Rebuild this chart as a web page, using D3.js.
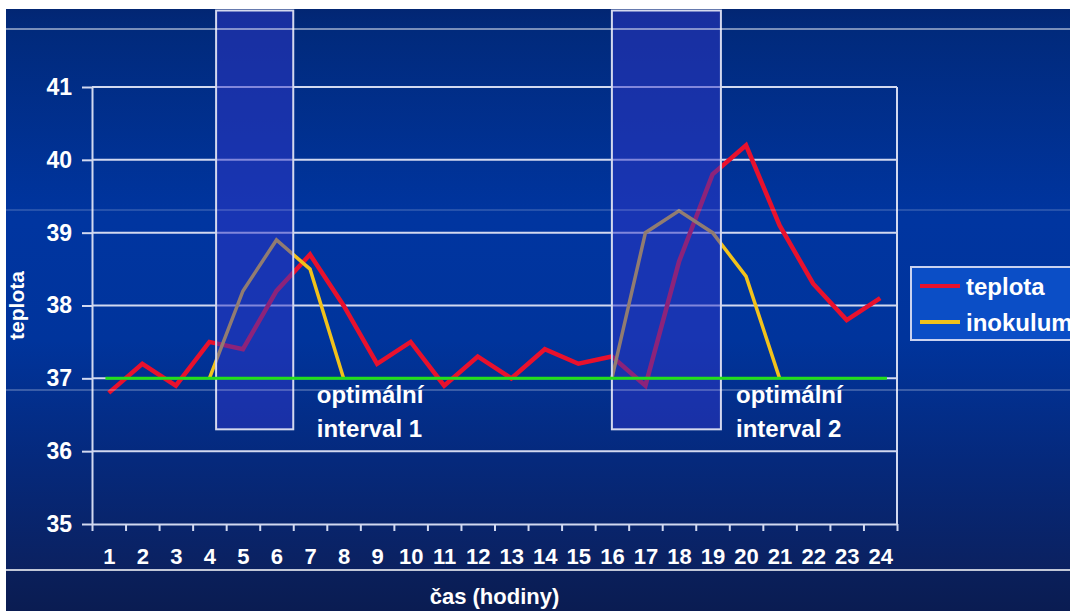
<html>

<head>
    <script src="https://d3js.org/d3.v7.min.js"></script>
    <style>
        body {
            margin: 0;
            background-color: white;
            font-family: "Liberation Sans", Arial, Helvetica, sans-serif;
        }

        svg text {
            fill: white;
            font-weight: bold;
        }
    </style>
</head>

<body>
    <div id="chart"></div>
    <script>
        // hodiny 1..24
        var hours = [1, 2, 3, 4, 5, 6, 7, 8, 9, 10, 11, 12, 13, 14, 15, 16, 17, 18, 19, 20, 21, 22, 23, 24];
        var teplota = [36.8, 37.2, 36.9, 37.5, 37.4, 38.2, 38.7, 38.0, 37.2, 37.5, 36.9, 37.3,
            37.0, 37.4, 37.2, 37.3, 36.9, 38.6, 39.8, 40.2, 39.1, 38.3, 37.8, 38.1];
        var inokulum = [null, null, null, 37.0, 38.2, 38.9, 38.5, 37.0, null, null, null, null,
            null, null, null, 37.0, 39.0, 39.3, 39.0, 38.4, 37.0, null, null, null];
        var optimum = 37;
        var yTicks = [35, 36, 37, 38, 39, 40, 41];
        var seriesNames = ["teplota", "inokulum"];
        // optimalni intervaly (od-do v hodinach, popisek)
        var intervals = [
            { from: 4.2, to: 6.5, label: ["optimální", "interval 1"], labelHour: 7.2 },
            { from: 16, to: 19.25, label: ["optimální", "interval 2"], labelHour: 19.7 }
        ];
        var intervalTop = 42.05, intervalBottom = 36.3;

        var width = 1070, height = 611;
        var margin = { top: 87, right: 173, bottom: 87, left: 92 };
        var colors = { teplota: "#e8112d", inokulum: "#f2c21b", optimum: "#22e01a", grid: "#d2d9f0" };

        var svg = d3.select("#chart").append("svg")
            .attr("width", width)
            .attr("height", height);

        // pozadi slidu
        var grad = svg.append("defs").append("linearGradient")
            .attr("id", "bg")
            .attr("x1", 0).attr("y1", 0).attr("x2", 0).attr("y2", 1);
        [[0, "#022673"], [0.035, "#012a7c"], [0.35, "#0035a0"], [0.55, "#00349c"],
         [0.75, "#05297c"], [0.932, "#0b2160"], [0.935, "#0a1f5a"], [1, "#0a1c52"]]
            .forEach(function (s) {
                grad.append("stop").attr("offset", s[0]).attr("stop-color", s[1]);
            });
        svg.append("rect")
            .attr("x", 6).attr("y", 9)
            .attr("width", width - 6).attr("height", height - 9)
            .style("fill", "url(#bg)");

        var x = d3.scaleLinear().domain([0.5, 24.5]).range([margin.left, width - margin.right]);
        var y = d3.scaleLinear().domain([35, 41]).range([height - margin.bottom, margin.top]);

        // mrizka
        svg.append("g").selectAll("line").data(yTicks.slice(1)).enter()
            .append("line")
            .attr("x1", x(0.5)).attr("x2", x(24.5))
            .attr("y1", function (d) { return y(d); })
            .attr("y2", function (d) { return y(d); })
            .style("stroke", colors.grid).style("stroke-width", 2);
        svg.append("line")
            .attr("x1", x(24.5)).attr("x2", x(24.5))
            .attr("y1", y(41)).attr("y2", y(35))
            .style("stroke", colors.grid).style("stroke-width", 2);

        // osy
        var yAxis = svg.append("g")
            .attr("transform", "translate(" + x(0.5) + ",0)")
            .call(d3.axisLeft(y).tickValues(yTicks).tickFormat(d3.format("d"))
                .tickSize(10).tickSizeOuter(0).tickPadding(10));
        yAxis.selectAll("text").style("font-size", "23px");

        svg.append("g")
            .attr("transform", "translate(0," + y(35) + ")")
            .call(d3.axisBottom(x).tickValues(hours.map(function (h) { return h - 0.5; }).concat([24.5]))
                .tickSize(7).tickSizeOuter(0).tickFormat(""));
        var xLabels = svg.append("g")
            .attr("transform", "translate(0," + y(35) + ")")
            .call(d3.axisBottom(x).tickValues(hours).tickSize(0).tickPadding(24));
        xLabels.select(".domain").remove();
        xLabels.selectAll("text").style("font-size", "22px");

        svg.selectAll(".domain, .tick line")
            .style("stroke", colors.grid).style("stroke-width", 2);

        // krivky
        var line = d3.line()
            .defined(function (d) { return d.v != null; })
            .x(function (d) { return x(d.h); })
            .y(function (d) { return y(d.v); });

        function pts(arr) {
            return hours.map(function (h, i) { return { h: h, v: arr[i] }; });
        }

        svg.append("path").datum(pts(teplota))
            .attr("d", line)
            .style("fill", "none").style("stroke", colors.teplota)
            .style("stroke-width", 4.5);
        svg.append("path").datum(pts(inokulum))
            .attr("d", line)
            .style("fill", "none").style("stroke", colors.inokulum)
            .style("stroke-width", 3.5);

        // intervaly
        svg.append("g").selectAll("rect").data(intervals).enter()
            .append("rect")
            .attr("x", function (d) { return x(d.from); })
            .attr("width", function (d) { return x(d.to) - x(d.from); })
            .attr("y", y(intervalTop))
            .attr("height", y(intervalBottom) - y(intervalTop))
            .style("fill", "#3035c8").style("fill-opacity", 0.5)
            .style("stroke", "#d4d8ee").style("stroke-width", 2);

        svg.append("line")
            .attr("x1", x(0.9)).attr("x2", x(24.2))
            .attr("y1", y(optimum)).attr("y2", y(optimum))
            .style("stroke", colors.optimum).style("stroke-width", 3);

        var lab = svg.append("g").selectAll("text").data(intervals).enter()
            .append("text")
            .attr("x", function (d) { return x(d.labelHour); })
            .attr("y", y(36.66))
            .style("font-size", "24px");
        lab.append("tspan").text(function (d) { return d.label[0]; });
        lab.append("tspan")
            .attr("x", function (d) { return x(d.labelHour); })
            .attr("dy", 34)
            .text(function (d) { return d.label[1]; });

        // legenda
        var legend = svg.append("g").attr("transform", "translate(911,267)");
        legend.append("rect")
            .attr("width", 180).attr("height", 73)
            .style("fill", "#0b4ec6").style("stroke", "#c9d2f0").style("stroke-width", 2);
        seriesNames.forEach(function (name, i) {
            legend.append("line")
                .attr("x1", 9).attr("x2", 49)
                .attr("y1", 19 + i * 36).attr("y2", 19 + i * 36)
                .style("stroke", colors[name]).style("stroke-width", 4);
            legend.append("text")
                .attr("x", 55).attr("y", 28 + i * 36)
                .style("font-size", "24px")
                .text(name);
        });

        // popisky os
        svg.append("text")
            .attr("x", (x(0.5) + x(24.5)) / 2).attr("y", 604)
            .attr("text-anchor", "middle")
            .style("font-size", "22px")
            .text("čas (hodiny)");
        svg.append("text")
            .attr("transform", "translate(24," + (y(35) + y(41)) / 2 + ") rotate(-90)")
            .attr("text-anchor", "middle")
            .style("font-size", "21px")
            .text("teplota");

        // linky ze skenu slidu
        svg.append("g").selectAll("line").data([[29, 1, 0.95], [210, 1, 0.3], [390, 1, 0.45], [570, 1.5, 1]]).enter()
            .append("line")
            .attr("x1", 6).attr("x2", width)
            .attr("y1", function (d) { return d[0]; }).attr("y2", function (d) { return d[0]; })
            .style("stroke", "white")
            .style("stroke-width", function (d) { return d[1]; })
            .style("stroke-opacity", function (d) { return d[2]; });
    </script>
</body>

</html>
